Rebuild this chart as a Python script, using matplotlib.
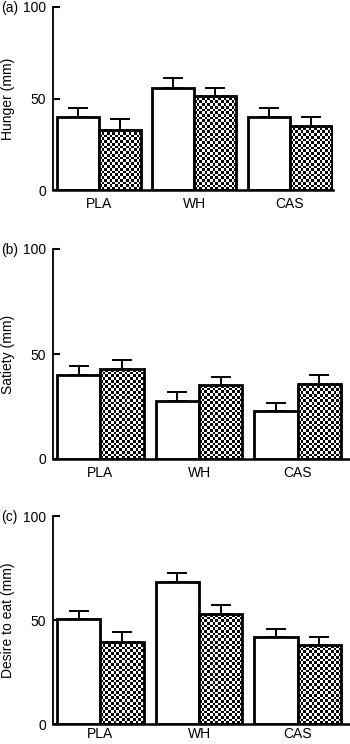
import numpy as np
import matplotlib
matplotlib.use('Agg')
import matplotlib.pyplot as plt

plt.rcParams['font.family'] = ['Liberation Sans', 'DejaVu Sans']

categories = ['PLA', 'WH', 'CAS']

hunger_white = [40, 56, 40]
hunger_white_err = [5, 5, 5]
hunger_check = [33, 51.5, 35]
hunger_check_err = [6, 4.5, 5]

satiety_white = [40, 27.7, 22.9]
satiety_white_err = [4.2, 4, 4]
satiety_check = [42.8, 35.2, 35.8]
satiety_check_err = [4.2, 4, 4]

desire_white = [50.3, 68.5, 41.6]
desire_white_err = [4.2, 4.2, 4.1]
desire_check = [39.5, 52.8, 37.9]
desire_check_err = [4.5, 4.2, 3.7]

panels = [
    ('(a)', 'Hunger (mm)', hunger_white, hunger_white_err, hunger_check, hunger_check_err),
    ('(b)', 'Satiety (mm)', satiety_white, satiety_white_err, satiety_check, satiety_check_err),
    ('(c)', 'Desire to eat (mm)', desire_white, desire_white_err, desire_check, desire_check_err),
]

# axes boxes in pixels: left, right, top, bottom, x label pad
boxes = [(53, 333, 7, 190, 5), (53, 349, 249, 459, 5), (53, 349, 516, 724, 2)]
W, H = 350, 744

fig = plt.figure(figsize=(3.5, 7.44), dpi=100)

bw = 0.44
for (letter, ylab, wv, we, cv, ce), (l, r, t, b, xpad) in zip(panels, boxes):
    ax = fig.add_axes([l / W, 1 - b / H, (r - l) / W, (b - t) / H])
    x = np.arange(len(categories))
    xmax = 2.45 if r < 340 else 2.52
    # pixel size per data unit for the checker pattern
    px_x = (r - l) / (xmax + 0.48)
    px_y = (b - t) / 100.0
    cell = 2.7

    ax.errorbar(x - bw / 2, wv, yerr=[np.zeros(3), we], fmt='none', ecolor='black',
                elinewidth=1.4, capsize=7, capthick=1.4, zorder=1)
    ax.errorbar(x + bw / 2, cv, yerr=[np.zeros(3), ce], fmt='none', ecolor='black',
                elinewidth=1.4, capsize=7, capthick=1.4, zorder=1)
    ax.bar(x - bw / 2, wv, bw, color='white', edgecolor='black', linewidth=2, zorder=2)
    for xi, v in zip(x, cv):
        nc = max(1, int(round(bw * px_x / cell)))
        nr = max(1, int(round(v * px_y / cell)))
        pat = (np.add.outer(np.arange(nr), np.arange(nc)) % 2).astype(float)
        ax.imshow(pat, cmap='gray', extent=(xi, xi + bw, 0, v), aspect='auto',
                  interpolation='nearest', zorder=2)
    ax.bar(x + bw / 2, cv, bw, color='none', edgecolor='black', linewidth=2, zorder=3)
    ax.set_xlim(-0.48, xmax)
    ax.set_ylim(0, 100)

    ax.spines['top'].set_visible(False)
    ax.spines['right'].set_visible(False)
    ax.spines['left'].set_linewidth(1.3)
    ax.spines['bottom'].set_linewidth(1.8)
    ax.set_xticks(x)
    ax.set_xticklabels(categories, fontsize=10)
    ax.tick_params(axis='x', length=0, pad=xpad)
    ax.set_yticks([0, 50, 100])
    ax.tick_params(axis='y', direction='in', length=5, width=1.5, labelsize=10, pad=5)
    ax.set_ylabel(ylab, fontsize=10, labelpad=6)
    ax.text(1 / W, 1 - (t + 1) / H, letter, transform=fig.transFigure,
            fontsize=10, va='center', ha='left')

fig.savefig('out.png', dpi=100)
